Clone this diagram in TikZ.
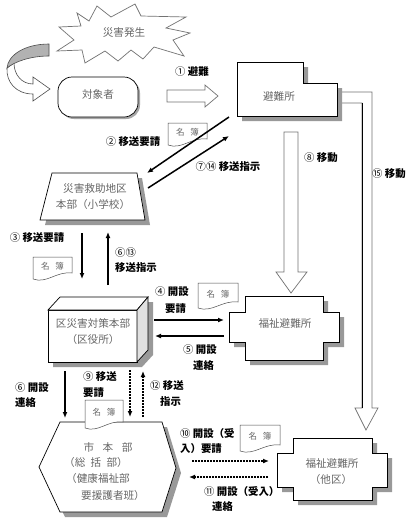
\documentclass[tikz,border=0pt]{standalone}
\usepackage{fontspec}
\setmainfont{Noto Sans CJK JP}
\usetikzlibrary{arrows.meta}
\newcommand{\cnum}[1]{{\mdseries #1}}
\newcommand{\meibo}[5]{%
 \draw[docst] (#2,#3) -- ({#2+#4},#3) -- ({#2+#4},{#3+#5-8}) .. controls ({#2+0.6*#4},{#3+#5-10}) and ({#2+0.35*#4},{#3+#5+3}) .. (#2,{#3+#5-2}) -- cycle;
 \node[doctxt] (#1) at ({#2+#4/2},{#3+0.4*#5}) {名\hspace{0.7em}簿};
}
\begin{document}
\begin{tikzpicture}[x=1pt,y=-1pt,
 shp/.style={draw=black,fill=white,line width=0.7pt},
 shd/.style={fill=black!40,draw=none},
 btxt/.style={font=\fontsize{10.6}{12}\selectfont, text=black!60, inner sep=0pt},
 lbl/.style={font=\fontsize{10.4}{12}\selectfont\bfseries, text=black, inner sep=0pt},
 arr/.style={line width=1.5pt,-{Latex[length=6pt,width=5pt]}},
 darr/.style={line width=1.6pt,dash pattern=on 1.6pt off 1.4pt,-{Latex[length=6pt,width=5pt]}},
 hol/.style={draw=black!55,fill=white,line width=0.7pt},
 docst/.style={draw=black!70,fill=white,line width=0.5pt},
 doctxt/.style={font=\fontsize{8.5}{9}\selectfont,text=black!60,inner sep=0pt}
]
\fill[white] (0,0) rectangle (416,520);
\useasboundingbox (0,0) rectangle (416,520);

% explosion
\draw[draw=black!55,fill=white,line width=0.7pt]
 (77,13) -- (89,21) -- (97,6) -- (111,17) -- (135,4) -- (141,16) -- (186,17) -- (166,28)
 -- (190,33) -- (173,40) -- (184,56) -- (154,47) -- (143,59) -- (131,50) -- (118,61)
 -- (105,51) -- (85,63) -- (82,50) -- (57,51) -- (74,40) -- (59,27) -- (81,26) -- cycle;
\node[btxt] (hassei) at (124,32) {災害発生};

% curved arrow
\draw[draw=black!70,fill=white,line width=0.6pt]
 (14,63) .. controls (14,75) and (22,84) .. (33,84) -- (33,77) -- (50,89) -- (33,101) -- (33,94)
 .. controls (16,94) and (6,82) .. (7,68) -- cycle;
\draw[draw=black!70,fill=black!30,line width=0.6pt]
 (49,44) .. controls (25,44) and (8,55) .. (7,68) .. controls (14,62) and (30,56) .. (49,56) -- cycle;

% taishosha
\draw[fill=black!35,draw=none,rounded corners=14pt] (60,79) rectangle (140,119);
\draw[shp,rounded corners=14pt] (58,77) rectangle (138,117);
\node[btxt] (taisho) at (98,94) {対象者};

% arrow 1 (hollow)
\draw[hol] (167,90) -- (205,90) -- (205,85) -- (218,96) -- (205,107) -- (205,102) -- (167,102) -- cycle;
\node[lbl] (l1) at (192,72) {\cnum{①} 避難};

% arrow 15 (hollow, long)
\draw[hol] (342,92) -- (372,92) -- (372,408) -- (378,408) -- (366,430) -- (355,408) -- (362,408) -- (362,103) -- (342,103);
\draw[black,line width=0.7pt] (362,103) -- (362,408);
\node[lbl] (l15) at (389,174) {\cnum{⑮} 移動};

% hinanjo
\fill[shd] (242,67) -- (308,67) -- (308,88) -- (342,88) -- (342,121) -- (242,121) -- cycle;
\draw[shp] (237,62) -- (303,62) -- (303,83) -- (337,83) -- (337,116) -- (237,116) -- cycle;
\node[btxt] (hinan) at (279,96) {避難所};

% arrow 8 (hollow)
\draw[hol] (284,132) -- (298,132) -- (298,272) -- (307,272) -- (291,293) -- (276,272) -- (284,272) -- cycle;
\node[lbl] (l8) at (321,158) {\cnum{⑧} 移動};

% doc near 2
\meibo{doc2}{168}{123}{39}{24}
\node[lbl] (l2) at (133,142) {\cnum{②} 移送要請};

% diagonal arrows
\coordinate (d1s) at (229,117);
\coordinate (d1e) at (147,173);
\coordinate (d2s) at (148,188);
\coordinate (d2e) at (229,136);
\draw[arr] (d1s) -- (d1e);
\draw[arr] (d2s) -- (d2e);
\node[lbl] (l7) at (228,167) {\cnum{⑦⑭} 移送指示};

% saigai kyujo chiku honbu
\fill[shd] (57,178) -- (142,178) -- (150,225) -- (45,225) -- cycle;
\draw[shp] (52,173) -- (137,173) -- (145,220) -- (40,220) -- cycle;
\node[btxt] (kyujo1) at (95,188) {災害救助地区};
\node[btxt] (kyujo2) at (93,204) {本部（小学校）};

% arrows 3 and 6/13
\node[lbl] (l3) at (37,238) {\cnum{③} 移送要請};
\meibo{doc3}{33}{257}{39}{24}
\coordinate (v3s) at (82,233);
\coordinate (v3e) at (82,279);
\draw[arr] (v3s) -- (v3e);
\coordinate (v6s) at (108,285);
\coordinate (v6e) at (108,232);
\draw[arr] (v6s) -- (v6e);
\node[lbl,anchor=west] (l6a) at (115,253) {\cnum{⑥⑬}};
\node[lbl,anchor=west] (l6b) at (115,268) {移送指示};

% ku saigai taisaku honbu (cuboid)
\fill[shd] (53,315) -- (65,302) -- (153,302) -- (153,355) -- (142,367) -- (53,367) -- cycle;
\draw[shp] (48,310) rectangle (137,362);
\draw[shp] (48,310) -- (60,297) -- (148,297) -- (137,310) -- cycle;
\draw[shp,fill=black!12] (137,310) -- (148,297) -- (148,350) -- (137,362) -- cycle;
\node[btxt] (ku1) at (93,323) {区災害対策本部};
\node[btxt] (ku2) at (93,339) {（区役所）};

% arrows 4 / 5
\node[lbl,anchor=west] (l4a) at (155,292) {\cnum{④} 開設};
\node[lbl,anchor=west] (l4b) at (165,309) {要請};
\meibo{doc4}{198}{283}{40}{27}
\coordinate (h4s) at (154,320);
\coordinate (h4e) at (224,320);
\draw[arr] (h4s) -- (h4e);
\coordinate (h5s) at (224,336);
\coordinate (h5e) at (155,336);
\draw[arr] (h5s) -- (h5e);
\node[lbl,anchor=west] (l5a) at (183,350) {\cnum{⑤} 開設};
\node[lbl,anchor=west] (l5b) at (193,366) {連絡};

% fukushi hinanjo
\fill[shd] (250,301) -- (328,301) -- (328,317) -- (344,317) -- (344,347) -- (328,347) -- (328,365) -- (250,365) -- (250,347) -- (234,347) -- (234,317) -- (250,317) -- cycle;
\draw[shp] (245,296) -- (323,296) -- (323,312) -- (339,312) -- (339,342) -- (323,342) -- (323,360) -- (245,360) -- (245,342) -- (229,342) -- (229,312) -- (245,312) -- cycle;
\node[btxt] (fuku) at (285,323) {福祉避難所};

% arrows 6, 9, 12
\node[lbl,anchor=west] (l6c) at (15,388) {\cnum{⑥} 開設};
\node[lbl,anchor=west] (l6d) at (15,403) {連絡};
\coordinate (v6cs) at (65,371);
\coordinate (v6ce) at (65,418);
\draw[arr] (v6cs) -- (v6ce);
\node[lbl,anchor=west] (l9a) at (83,377) {\cnum{⑨} 移送};
\node[lbl,anchor=west] (l9b) at (83,393) {要請};
\coordinate (v9s) at (130,370);
\coordinate (v9e) at (130,417);
\draw[darr] (v9s) -- (v9e);
\coordinate (v12s) at (143,417);
\coordinate (v12e) at (143,371);
\draw[darr] (v12s) -- (v12e);
\node[lbl,anchor=west] (l12a) at (150,386) {\cnum{⑫} 移送};
\node[lbl,anchor=west] (l12b) at (160,402) {指示};

% shi honbu (hexagon)
\fill[shd] (65,427) -- (167,427) -- (181,473) -- (167,517) -- (65,517) -- (44,472) -- cycle;
\draw[shp] (60,422) -- (162,422) -- (176,468) -- (162,512) -- (60,512) -- (39,467) -- cycle;
\node[btxt] (shi1) at (108,447) {市\hspace{0.8em}本\hspace{0.8em}部};
\node[btxt,anchor=west] (shi2) at (64,462) {（総\hspace{0.5em}括\hspace{0.5em}部）};
\node[btxt,anchor=west] (shi3) at (66,478) {（健康福祉部};
\node[btxt,anchor=west] (shi4) at (81,495) {要援護者班）};
\meibo{doc9}{85}{400}{38}{30}

% arrows 10 / 11
\node[lbl,anchor=west] (l10a) at (180,434) {\cnum{⑩} 開設（受};
\node[lbl,anchor=west] (l10b) at (180,449) {入）要請};
\meibo{doc10}{240}{425}{40}{28}
\coordinate (h10s) at (192,461);
\coordinate (h10e) at (269,461);
\draw[darr] (h10s) -- (h10e);
\coordinate (h11s) at (268,477);
\coordinate (h11e) at (189,477);
\draw[darr] (h11s) -- (h11e);
\node[lbl,anchor=west] (l11a) at (204,492) {\cnum{⑪} 開設（受入）};
\node[lbl,anchor=west] (l11b) at (212,507) {連絡};

% fukushi hinanjo (taku)
\fill[shd] (298,443) -- (377,443) -- (377,458) -- (392,458) -- (392,492) -- (377,492) -- (377,505) -- (298,505) -- (298,492) -- (282,492) -- (282,458) -- (298,458) -- cycle;
\draw[shp] (293,438) -- (372,438) -- (372,453) -- (387,453) -- (387,487) -- (372,487) -- (372,500) -- (293,500) -- (293,487) -- (277,487) -- (277,453) -- (293,453) -- cycle;
\node[btxt] (taku1) at (332,463) {福祉避難所};
\node[btxt] (taku2) at (331,479) {（他区）};
\end{tikzpicture}
\end{document}
